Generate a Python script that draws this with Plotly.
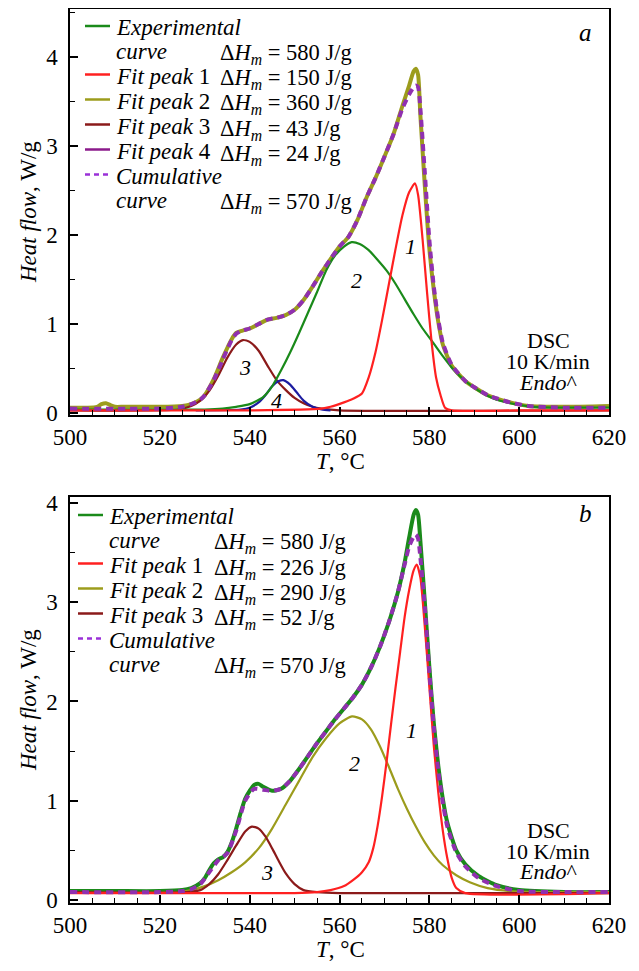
import plotly.graph_objects as go

# ---------------- Panel a data ----------------
a_exp_T = [500, 504, 506, 507, 508, 509, 510, 512, 520, 525, 527, 529, 530, 532, 534, 536, 537, 538, 540, 542, 544, 546, 548, 550, 552, 554, 556, 558, 560, 562, 564, 566, 568, 570, 572, 574, 575.5, 576.5, 577, 577.5, 578, 579, 580, 581, 582, 583, 585, 588, 590, 593, 598, 602, 610, 620]
a_exp_V = [0.06, 0.06, 0.07, 0.10, 0.11, 0.09, 0.07, 0.07, 0.07, 0.08, 0.10, 0.15, 0.20, 0.38, 0.62, 0.83, 0.90, 0.92, 0.95, 1.00, 1.05, 1.07, 1.10, 1.16, 1.27, 1.42, 1.58, 1.73, 1.87, 1.98, 2.17, 2.42, 2.64, 2.88, 3.13, 3.45, 3.68, 3.84, 3.87, 3.80, 3.35, 2.55, 1.85, 1.38, 1.02, 0.77, 0.53, 0.36, 0.29, 0.20, 0.12, 0.08, 0.07, 0.08]

a_cum_T = [500, 520, 525, 527, 529, 530, 532, 534, 536, 537, 538, 540, 542, 544, 546, 548, 550, 552, 554, 556, 558, 560, 562, 564, 566, 568, 570, 572, 574, 575.5, 576.5, 577, 577.5, 578, 579, 580, 581, 582, 583, 585, 588, 590, 593, 598, 602, 610, 620]
a_cum_V = [0.05, 0.05, 0.07, 0.10, 0.15, 0.20, 0.37, 0.60, 0.82, 0.89, 0.92, 0.95, 1.00, 1.05, 1.07, 1.10, 1.16, 1.27, 1.42, 1.58, 1.73, 1.87, 1.98, 2.17, 2.42, 2.64, 2.88, 3.13, 3.42, 3.58, 3.66, 3.68, 3.66, 3.42, 2.70, 1.95, 1.42, 1.05, 0.79, 0.54, 0.36, 0.29, 0.20, 0.12, 0.08, 0.06, 0.06]

a_p1_T = [500, 540, 556, 558, 561, 563, 565, 566.5, 568, 569.5, 571, 572.5, 574, 575.5, 576.8, 577.5, 578.5, 579.5, 580.5, 581.5, 582.5, 583.5, 585, 600, 620]
a_p1_V = [0.03, 0.03, 0.05, 0.07, 0.12, 0.16, 0.22, 0.40, 0.68, 1.05, 1.45, 1.85, 2.22, 2.48, 2.58, 2.45, 1.95, 1.35, 0.80, 0.40, 0.20, 0.06, 0.03, 0.03, 0.03]

a_p2_T = [500, 530, 534, 537, 540, 543, 545, 547, 549, 551, 553, 555, 557, 559, 561, 562.7, 564.5, 566.5, 568.5, 570.5, 572.5, 574.5, 576.5, 578.5, 581, 583, 585.5, 588, 591, 594, 598, 603, 620]
a_p2_V = [0.04, 0.04, 0.05, 0.07, 0.10, 0.18, 0.30, 0.48, 0.68, 0.90, 1.13, 1.36, 1.60, 1.77, 1.87, 1.92, 1.90, 1.83, 1.72, 1.60, 1.45, 1.28, 1.11, 0.95, 0.78, 0.64, 0.48, 0.36, 0.25, 0.17, 0.11, 0.07, 0.06]

a_p3_T = [500, 524, 527, 529, 531, 533, 535, 537, 538.5, 540, 542, 544, 546, 548, 550, 552, 554, 556, 560, 620]
a_p3_V = [0.03, 0.04, 0.08, 0.14, 0.25, 0.42, 0.62, 0.77, 0.82, 0.80, 0.70, 0.53, 0.37, 0.26, 0.17, 0.11, 0.07, 0.05, 0.03, 0.03]

a_p4_T = [528, 538, 540, 542, 543.5, 545, 546.5, 547.5, 549, 550.5, 552, 554, 556, 558]
a_p4_V = [0.03, 0.04, 0.06, 0.12, 0.20, 0.30, 0.36, 0.37, 0.32, 0.23, 0.14, 0.07, 0.04, 0.03]

# ---------------- Panel b data ----------------
b_exp_T = [500, 510, 520, 525, 527, 529, 530, 531, 532, 533, 534, 535, 536, 537, 538, 539, 540, 541, 542, 543, 545, 547, 549, 551, 553, 555, 557, 559, 561, 563, 565, 567, 569, 571, 573, 574.5, 575.5, 576.5, 577, 577.5, 578, 579, 580, 581, 582, 583, 584, 586, 588, 591, 595, 600, 610, 620]
b_exp_V = [0.09, 0.09, 0.09, 0.10, 0.12, 0.17, 0.22, 0.30, 0.37, 0.41, 0.43, 0.48, 0.58, 0.72, 0.88, 1.02, 1.10, 1.16, 1.17, 1.14, 1.10, 1.12, 1.20, 1.32, 1.45, 1.58, 1.70, 1.82, 1.93, 2.04, 2.17, 2.34, 2.55, 2.80, 3.10, 3.40, 3.65, 3.88, 3.93, 3.88, 3.62, 3.00, 2.35, 1.78, 1.35, 1.02, 0.78, 0.50, 0.36, 0.24, 0.15, 0.10, 0.08, 0.08]

b_cum_T = [500, 520, 525, 527, 529, 531, 533, 535, 537, 539, 541, 543, 545, 547, 549, 551, 553, 555, 557, 559, 561, 563, 565, 567, 569, 571, 573, 574.5, 575.5, 576.5, 577, 577.5, 578, 579, 580, 581, 582, 583, 584, 586, 588, 591, 595, 600, 610, 620]
b_cum_V = [0.08, 0.08, 0.09, 0.11, 0.16, 0.28, 0.40, 0.47, 0.70, 1.00, 1.12, 1.11, 1.10, 1.12, 1.20, 1.32, 1.45, 1.58, 1.70, 1.82, 1.93, 2.04, 2.17, 2.34, 2.55, 2.80, 3.10, 3.38, 3.56, 3.66, 3.68, 3.64, 3.45, 2.95, 2.30, 1.74, 1.30, 0.98, 0.74, 0.48, 0.34, 0.22, 0.14, 0.09, 0.08, 0.08]

b_p1_T = [500, 550, 555, 558, 561, 563, 565, 566.5, 567.5, 568.5, 569.5, 570.5, 571.5, 572.5, 573.5, 574.5, 575.5, 576.5, 577.2, 578, 579, 580, 581, 582, 583, 584, 585, 586, 588, 620]
b_p1_V = [0.07, 0.07, 0.08, 0.10, 0.14, 0.20, 0.28, 0.38, 0.52, 0.75, 1.05, 1.40, 1.78, 2.15, 2.50, 2.85, 3.12, 3.32, 3.38, 3.25, 2.75, 2.15, 1.55, 1.08, 0.70, 0.42, 0.22, 0.12, 0.07, 0.07]

b_p2_T = [500, 524, 527, 530, 533, 536, 539, 542, 545, 548, 551, 554, 557, 560, 562.8, 565, 567, 569, 571, 573, 575, 577, 579, 581, 583, 586, 589, 593, 598, 605, 620]
b_p2_V = [0.08, 0.08, 0.10, 0.14, 0.20, 0.28, 0.38, 0.52, 0.72, 0.96, 1.20, 1.44, 1.63, 1.78, 1.85, 1.82, 1.72, 1.55, 1.34, 1.12, 0.92, 0.74, 0.58, 0.45, 0.35, 0.25, 0.18, 0.12, 0.09, 0.08, 0.08]

b_p3_T = [500, 526, 529, 531, 533, 535, 537, 539, 540.5, 542, 543.5, 545, 546.5, 548, 550, 552, 555, 560, 620]
b_p3_V = [0.08, 0.08, 0.10, 0.16, 0.26, 0.40, 0.55, 0.69, 0.74, 0.72, 0.64, 0.52, 0.39, 0.27, 0.16, 0.10, 0.08, 0.07, 0.07]

legend_a = [
    ("green", "solid", ["<i>Experimental</i>", "<i>curve</i>"], "580"),
    ("red", "solid", ["<i>Fit peak</i> 1"], "150"),
    ("olive", "solid", ["<i>Fit peak</i> 2"], "360"),
    ("maroon", "solid", ["<i>Fit peak</i> 3"], "43"),
    ("purple", "solid", ["<i>Fit peak</i> 4"], "24"),
    ("violet", "dash", ["<i>Cumulative</i>", "<i>curve</i>"], "570"),
]
legend_b = [
    ("green", "solid", ["<i>Experimental</i>", "<i>curve</i>"], "580"),
    ("red", "solid", ["<i>Fit peak</i> 1"], "226"),
    ("olive", "solid", ["<i>Fit peak</i> 2"], "290"),
    ("maroon", "solid", ["<i>Fit peak</i> 3"], "52"),
    ("violet", "dash", ["<i>Cumulative</i>", "<i>curve</i>"], "570"),
]

COL = {
    "green": "#1a8a1a",
    "red": "#ff2020",
    "olive": "#9c9c1c",
    "maroon": "#8b1a1a",
    "purple": "#8b1a8b",
    "blue": "#1c1ca0",
    "violet": "#9a30d8",
    "dashplot": "#9030b0",
}
FONT = "Liberation Serif, serif"

OFF = 8
W, H = 623, 955
L, R, T = 62, 22, 1
PW, PH = 539, 894
B = H - T - PH
PL, PT = L + OFF, T + OFF


def px(x):
    return (x - PL) / PW


def py(y):
    return (PT + PH - y) / PH


fig = go.Figure()


def add(xs, ys, color, width, axis, dash="solid"):
    fig.add_trace(go.Scatter(x=xs, y=ys, mode="lines", xaxis="x" + axis, yaxis="y" + axis,
                             line=dict(color=color, width=width, dash=dash, shape="spline", smoothing=0.6),
                             showlegend=False, hoverinfo="skip"))


DASH = "7px,5px"
add(a_exp_T, a_exp_V, COL["olive"], 4, "")
add(a_p3_T, a_p3_V, COL["maroon"], 2.2, "")
add(a_p4_T, a_p4_V, COL["blue"], 2.2, "")
add(a_p2_T, a_p2_V, COL["green"], 2.2, "")
add(a_p1_T, a_p1_V, COL["red"], 2.2, "")
add(a_cum_T, a_cum_V, COL["dashplot"], 4, "", DASH)

add(b_exp_T, b_exp_V, COL["green"], 4, "2")
add(b_p2_T, b_p2_V, COL["olive"], 2.2, "2")
add(b_p3_T, b_p3_V, COL["maroon"], 2.2, "2")
add(b_p1_T, b_p1_V, COL["red"], 2.2, "2")
add(b_cum_T, b_cum_V, COL["dashplot"], 4, "2", DASH)

TF = dict(family=FONT, size=23, color="black")
xcommon = dict(range=[500, 620], dtick=20, tick0=500, ticks="inside", ticklen=8, tickwidth=1.5,
               tickcolor="black", showline=True, linecolor="black", linewidth=2, mirror=True,
               showgrid=False, zeroline=False, tickfont=TF, automargin=False)
ycommon = dict(dtick=1, tick0=0, ticks="inside", ticklen=8, tickwidth=1.5, tickcolor="black",
               showline=True, linecolor="black", linewidth=2, mirror=True, showgrid=False, zeroline=False,
               tickfont=TF, ticksuffix="\u00a0", automargin=False)
xminor = dict(range=[500, 620], dtick=5, tick0=500, ticks="inside", ticklen=5, tickwidth=1.2,
              tickcolor="black", showticklabels=False, showgrid=False, zeroline=False, showline=False,
              automargin=False)
yminor = dict(dtick=0.5, tick0=0, ticks="inside", ticklen=5, tickwidth=1.2, tickcolor="black",
              showticklabels=False, showgrid=False, zeroline=False, showline=False, automargin=False)

top_a, bot_a = 9, 415
top_b, bot_b = 497, 903
RA = [-0.022, 4.54]
RB = [-0.03, 4.06]
DA = [py(bot_a), py(top_a)]
DB = [py(bot_b), py(top_b)]

fig.update_layout(
    width=W, height=H, margin=dict(l=L, r=R, t=T, b=B, autoexpand=False),
    paper_bgcolor="white", plot_bgcolor="white", showlegend=False,
    xaxis=dict(xcommon, domain=[0, 1], anchor="y"),
    yaxis=dict(ycommon, domain=DA, range=RA, anchor="x"),
    xaxis2=dict(xcommon, domain=[0, 1], anchor="y2"),
    yaxis2=dict(ycommon, domain=DB, range=RB, anchor="x2"),
    xaxis3=dict(xminor, overlaying="x", anchor="y"),
    yaxis3=dict(yminor, overlaying="y", range=RA, anchor="x"),
    xaxis4=dict(xminor, overlaying="x2", anchor="y2"),
    yaxis4=dict(yminor, overlaying="y2", range=RB, anchor="x2"),
)
for ax in ("3", "4"):
    fig.add_trace(go.Scatter(x=[500], y=[0], xaxis="x" + ax, yaxis="y" + ax, mode="markers",
                             marker=dict(opacity=0), showlegend=False, hoverinfo="skip"))

ann = []
shapes = []


def text(x, y, s, size=22, xanchor="center", yanchor="middle", angle=0):
    ann.append(dict(x=px(x), y=py(y), xref="paper", yref="paper", text=s, showarrow=False,
                    xanchor=xanchor, yanchor=yanchor, textangle=angle,
                    font=dict(family=FONT, size=size, color="black")))


def legend(entries, x_line0, x_line1, x_text, x_dh, y0, row_h, sub_h):
    y = y0
    for col, dash, lines, val in entries:
        shapes.append(dict(type="line", xref="paper", yref="paper", x0=px(x_line0), x1=px(x_line1),
                           y0=py(y - 2), y1=py(y - 2),
                           line=dict(color=COL[col], width=2.5, dash=("5px,4px" if dash == "dash" else "solid"))))
        for i, ln in enumerate(lines):
            text(x_text, y + i * sub_h, ln, size=23, xanchor="left")
        ydh = y + (len(lines) - 1) * sub_h
        text(x_dh, ydh + 3, "&#916;<i>H<sub>m</sub></i> = " + val + " J/g", size=22.5, xanchor="left")
        y += row_h + (len(lines) - 1) * sub_h


legend(legend_a, 85, 110, 114, 218, 28, 25, 23.5)
legend(legend_b, 78, 103, 107, 212, 517, 25, 23.5)

text(585, 33, "<i>a</i>", size=25)
text(585, 513, "<i>b</i>", size=25)

text(410, 246, "<i>1</i>")
text(356, 280, "<i>2</i>")
text(245, 368, "<i>3</i>")
text(276, 401, "<i>4</i>")
text(411, 730, "<i>1</i>")
text(354, 763, "<i>2</i>")
text(267, 872, "<i>3</i>")

for y0 in (341, 830):
    text(548, y0, "DSC", size=22)
    text(548, y0 + 21, "10 K/min", size=22)
    text(548, y0 + 41, "<i>Endo</i>^", size=22)

for yc in (212, 700):
    text(28, yc, "<i>Heat flow</i>, W/g", size=23, angle=-90)
text(340, 461, "<i>T</i>, &#176;C", size=23)
text(340, 950, "<i>T</i>, &#176;C", size=23)

fig.update_layout(annotations=ann, shapes=shapes)
fig.write_html("out.html")
